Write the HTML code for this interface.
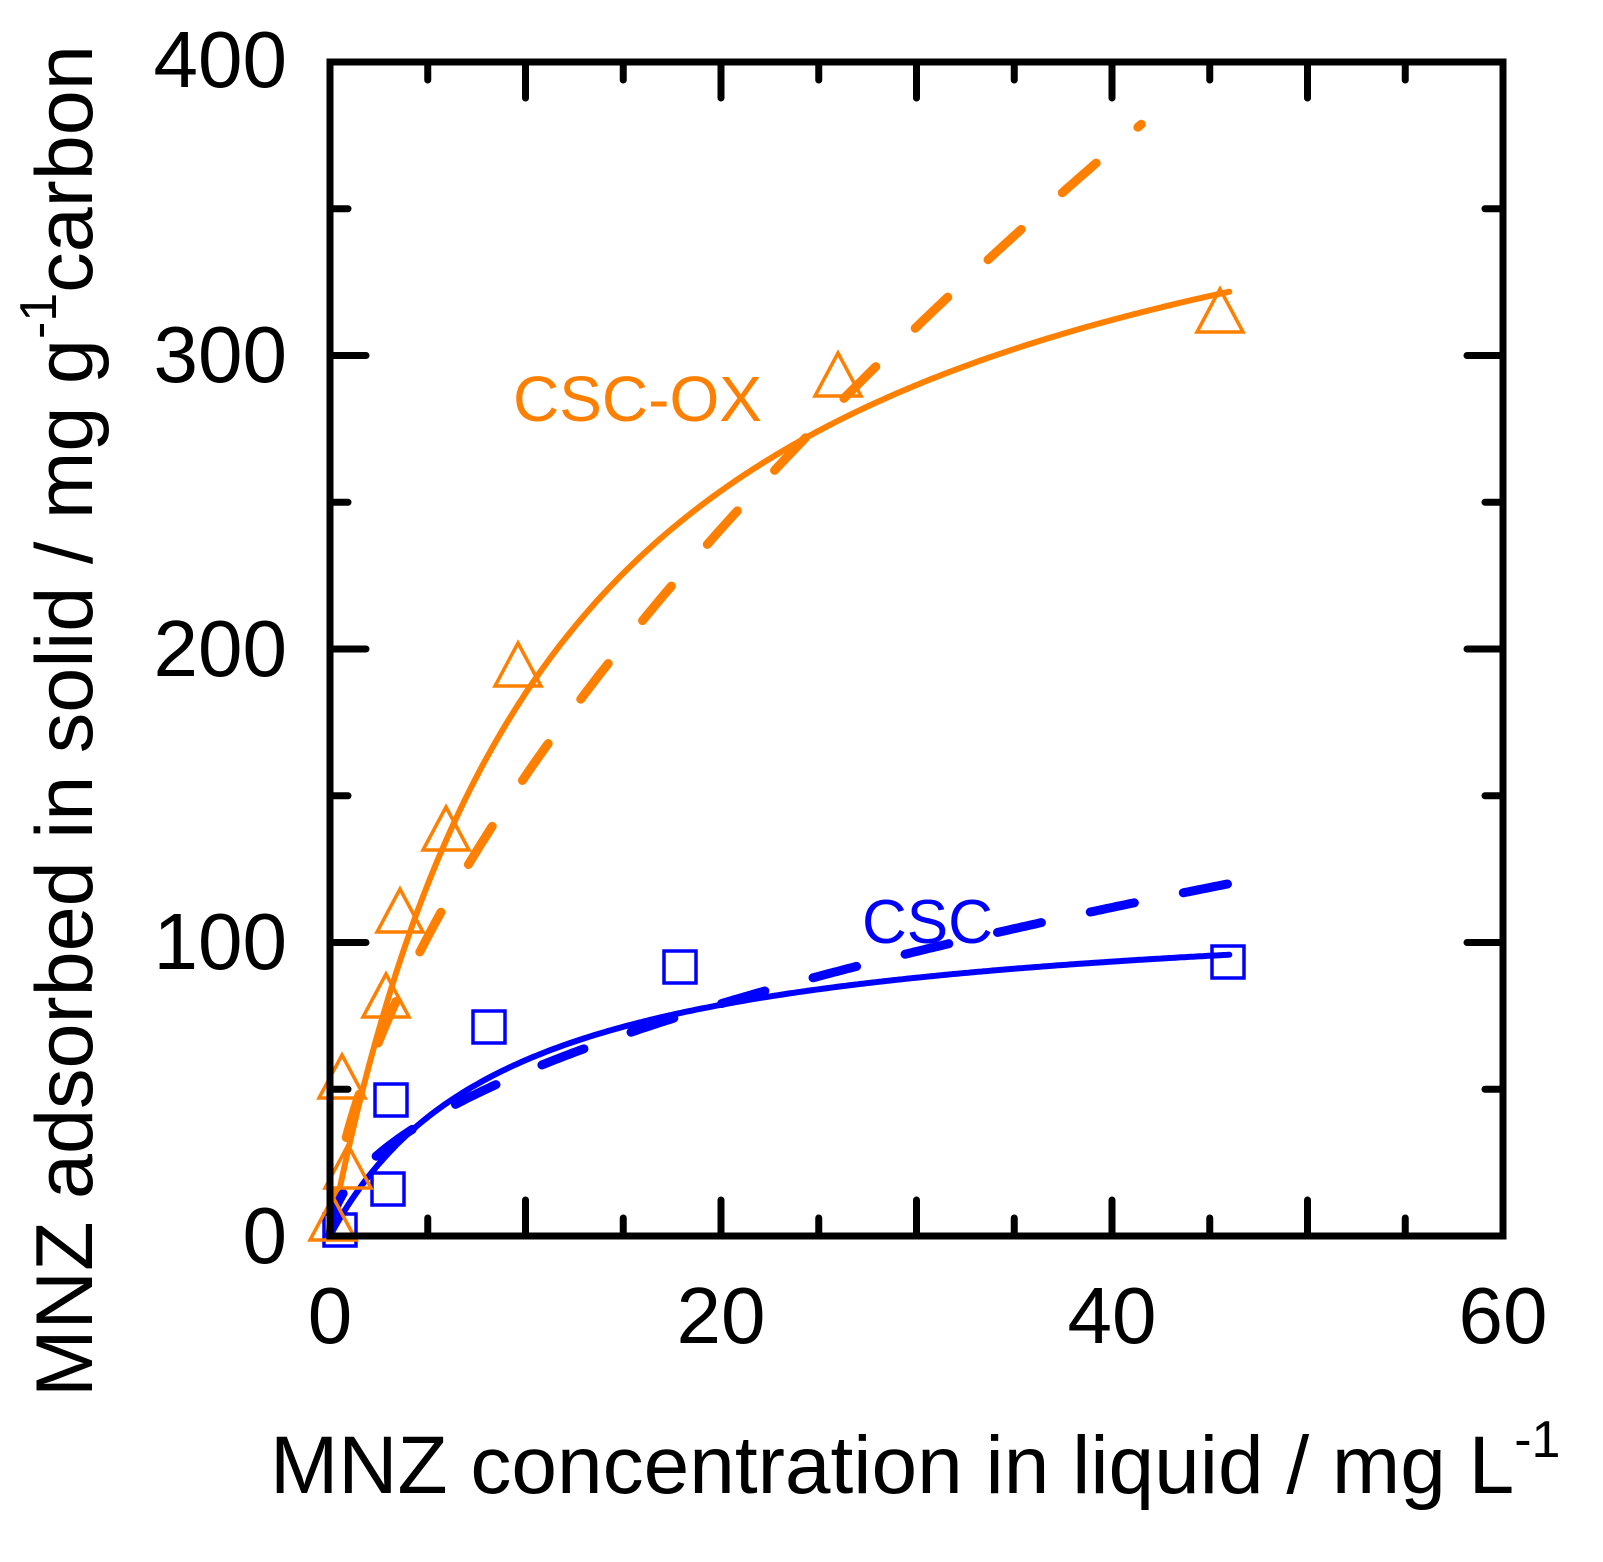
<!DOCTYPE html>
<html><head><meta charset="utf-8"><style>
html,body{margin:0;padding:0;background:#fff}
svg{display:block}
text{font-family:"Liberation Sans",Arial,sans-serif}
</style></head><body>
<svg id="s" width="1603" height="1562" viewBox="0 0 1603 1562" xmlns="http://www.w3.org/2000/svg">
<g id="curves" fill="none" stroke-linecap="round" stroke-linejoin="round"></g>
<g id="marks" fill="none" stroke-width="3.5"></g>
<rect x="330" y="62" width="1173" height="1174" fill="none" stroke="#000" stroke-width="7"/>
<g id="ticks" stroke="#000" stroke-width="7" stroke-linecap="round"></g>
<g font-size="80" fill="#000">
<text x="287" y="1263" text-anchor="end">0</text>
<text x="287" y="969" text-anchor="end">100</text>
<text x="287" y="676" text-anchor="end">200</text>
<text x="287" y="382" text-anchor="end">300</text>
<text x="287" y="87" text-anchor="end">400</text>
<text x="330" y="1343" text-anchor="middle">0</text>
<text x="721" y="1343" text-anchor="middle">20</text>
<text x="1112" y="1343" text-anchor="middle">40</text>
<text x="1503" y="1343" text-anchor="middle">60</text>
</g>
<text x="270" y="1493" font-size="82">MNZ concentration in liquid / mg L<tspan dy="-36" font-size="52">-1</tspan></text>
<text transform="translate(92,1397) rotate(-90)" font-size="81">MNZ adsorbed in solid / mg g<tspan dy="-36" font-size="52">-1</tspan><tspan dy="36">carbon</tspan></text>
<text x="513" y="421" font-size="64" fill="#ff8000">CSC-OX</text>
<text x="862" y="943" font-size="62" fill="#0000ff">CSC</text>
</svg>
<script>
var X=function(c){return 330+c*19.55},Y=function(q){return 1236-q*2.935};
var ns="http://www.w3.org/2000/svg";
function el(p,t,a){var e=document.createElementNS(ns,t);for(var k in a)e.setAttribute(k,a[k]);document.getElementById(p).appendChild(e);return e}
function path(f,c0,c1,col,w,dash){var d="";for(var i=0;i<=300;i++){var c=c0+(c1-c0)*i/300;d+=(i?"L":"M")+X(c).toFixed(1)+","+Y(f(c)).toFixed(1)}
var a={d:d,stroke:col,"stroke-width":w};if(dash)a["stroke-dasharray"]=dash;el("curves","path",a)}
path(function(c){return 405*0.084*c/(1+0.084*c)},0,46,"#ff8000",6);
path(function(c){return 37.6*Math.pow(c,0.62)},0,41.5,"#ff8000",9,"45 55");
path(function(c){return 115*0.1087*c/(1+0.1087*c)},0,46,"#0000ff",6);
path(function(c){return 17.7*Math.pow(c,0.5)},0,46,"#0000ff",9,"45 50");
[[388,1189],[391,1100],[489,1027],[680,967],[1228,962],[340,1230]].forEach(function(p){el("marks","rect",{x:p[0]-16,y:p[1]-16,width:32,height:32,stroke:"#0000ff"})});
[[333,1222],[348,1170],[342,1080],[386,999],[400,914],[446,832],[518,668],[838,378],[1220,314]].forEach(function(p){var x=p[0],y=p[1];el("marks","polygon",{points:(x)+","+(y-25)+" "+(x-23)+","+(y+18)+" "+(x+23)+","+(y+18),stroke:"#ff8000"})});
for(var i=1;i<12;i++){var x=330+i*1173/12,L=(i%2==0)?36:18;el("ticks","line",{x1:x,y1:1236,x2:x,y2:1236-L});el("ticks","line",{x1:x,y1:62,x2:x,y2:62+L})}
for(var j=1;j<8;j++){var y=1236-j*1174/8,L=(j%2==0)?36:18;el("ticks","line",{x1:330,y1:y,x2:330+L,y2:y});el("ticks","line",{x1:1503,y1:y,x2:1503-L,y2:y})}
</script>
</body></html>
